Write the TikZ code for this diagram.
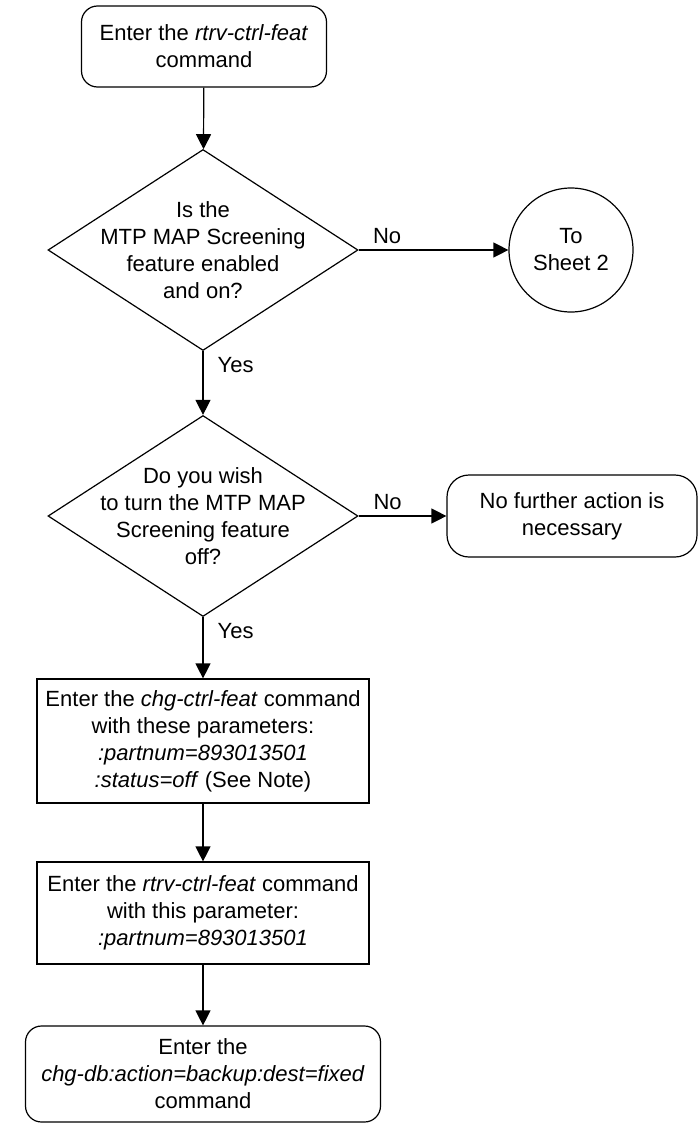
\documentclass[tikz,border=0pt]{standalone}
\usepackage{fontspec}
\setmainfont{Liberation Sans}
\usetikzlibrary{shapes.geometric,arrows.meta}
\tikzset{
  term/.style={draw, line width=1.2pt, rounded corners=16pt, align=center,
               inner sep=0pt},
  proc/.style={draw, line width=1.2pt, align=center, inner sep=0pt},
  decision/.style={draw, diamond, line width=1.2pt, inner sep=0pt,
                   minimum width=310pt, minimum height=201pt},
  conn/.style={draw, circle, line width=1.2pt, minimum size=124pt,
               align=center, inner sep=0pt},
  txt/.style={align=center, inner sep=0pt},
  flow/.style={-{Triangle[length=15pt, width=15pt]}, line width=1.2pt},
  lbl/.style={inner sep=1pt},
}

\begin{document}
\begin{tikzpicture}[x=1pt, y=-1pt, font=\fontsize{22}{27}\selectfont]

  \useasboundingbox (0,0) rectangle (699,1127);

  % Start and first check
  \node[term, minimum width=245pt, minimum height=81pt] (start) at (204,46.5)
        {Enter the \textit{rtrv-ctrl-feat}\\command};
  \node[decision] (enabled) at (203,250) {};
  \node[txt] (enabledtxt) at (enabled)
        {Is the\\MTP MAP Screening\\feature enabled\\and on?};
  \node[conn] (sheet2) at (571,250) {To\\Sheet 2};

  % Second check
  \node[decision] (turnoff) at (203,516) {};
  \node[txt] (turnofftxt) at (turnoff)
        {Do you wish\\to turn the MTP MAP\\Screening feature\\off?};
  \node[term, rounded corners=22pt, minimum width=250pt, minimum height=82pt]
        (noaction) at (572,516) {No further action is\\necessary};

  % Commands
  \node[proc, minimum width=332pt, minimum height=124pt] (chgfeat) at (203,741)
        {Enter the \textit{chg-ctrl-feat} command\\with these parameters:\\
         \textit{:partnum=893013501}\\\textit{:status=off} (See Note)};
  \node[proc, minimum width=332pt, minimum height=102pt] (rtrvfeat) at (203,913)
        {Enter the \textit{rtrv-ctrl-feat} command\\with this parameter:\\
         \textit{:partnum=893013501}};
  \node[term, minimum width=355pt, minimum height=96pt] (backup) at (203,1074)
        {Enter the\\\textit{chg-db:action=backup:dest=fixed}\\command};

  % Flows
  \draw[flow] (start) -- (enabled);
  \draw[flow] (enabled) -- node[lbl, pos=0.19, yshift=14pt]{No} (sheet2);
  \draw[flow] (enabled) -- node[lbl, pos=0.22, right, xshift=13pt]{Yes} (turnoff);
  \draw[flow] (turnoff) -- node[lbl, pos=0.33, yshift=14pt]{No} (noaction);
  \draw[flow] (turnoff) -- node[lbl, pos=0.23, right, xshift=13pt]{Yes} (chgfeat);
  \draw[flow] (chgfeat) -- (rtrvfeat);
  \draw[flow] (rtrvfeat) -- (backup);

\end{tikzpicture}
\end{document}
